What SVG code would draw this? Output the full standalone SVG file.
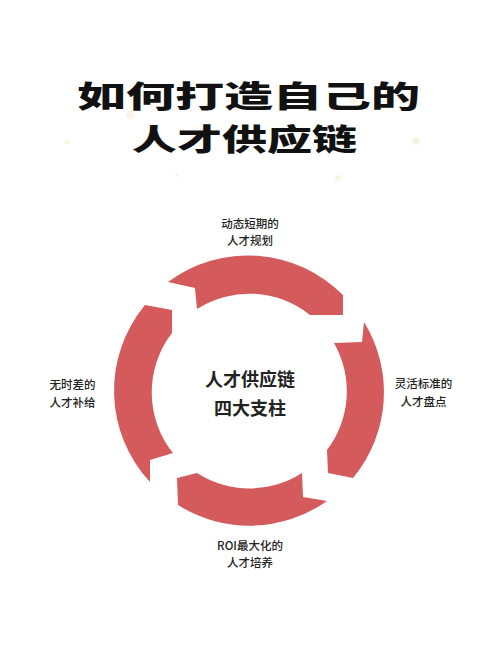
<svg xmlns="http://www.w3.org/2000/svg" width="500" height="667" viewBox="0 0 500 667">
  <style>
    .title { font-family: "Noto Sans CJK SC", "Noto Sans CJK JP", sans-serif; font-weight: 900; font-size: 29.5px; fill: #111; }
    .center { font-family: "Noto Sans CJK SC", "Noto Sans CJK JP", sans-serif; font-weight: 700; font-size: 18px; fill: #222; text-anchor: middle; }
    .label { font-family: "Noto Sans CJK SC", "Noto Sans CJK JP", sans-serif; font-weight: 500; font-size: 11.5px; fill: #222; text-anchor: middle; }
    .seg { fill: #d45a5b; }
    .spark { fill: #f2e6c0; opacity: 0.45; }
  </style>
  <rect width="500" height="667" fill="#ffffff"/>
  <g id="sparkles">
    <circle class="spark" cx="130" cy="115" r="4"/>
    <circle class="spark" cx="67" cy="142" r="2.5"/>
    <circle class="spark" cx="177" cy="175" r="2"/>
    <circle class="spark" cx="353" cy="100" r="4"/>
    <circle class="spark" cx="416" cy="141" r="4"/>
    <circle class="spark" cx="338" cy="178" r="3"/>
  </g>
  <g id="title">
    <text class="title" x="77" y="107" textLength="343" lengthAdjust="spacingAndGlyphs">如何打造自己的</text>
    <text class="title" x="132" y="150" textLength="225" lengthAdjust="spacingAndGlyphs">人才供应链</text>
  </g>
  <g id="connectors">
    <path id="seg-top" class="seg" d="M 168,282 A 134 134 0 0 1 343,295 L 343,315 L 310,315 A 97 97 0 0 0 197,309 L 195,288 Z"/>
    <path id="seg-right" class="seg" d="M 364,322 A 134 134 0 0 1 353,478 L 328,473 L 327,450 A 97 97 0 0 0 334,343 L 362,342 Z"/>
    <path id="seg-bottom" class="seg" d="M 327,501 A 134 134 0 0 1 178,505 L 177,478 L 197,473 A 97 97 0 0 0 302,473 L 303,497 Z"/>
    <path id="seg-left" class="seg" d="M 150,482 A 134 134 0 0 1 145,305 L 172,310 L 172,333 A 97 97 0 0 0 173,453 L 150,460 Z"/>
  </g>
  <g id="node-center">
    <text class="center" x="250" y="386">人才供应链</text>
    <text class="center" x="250" y="415">四大支柱</text>
  </g>
  <g id="node-top">
    <text class="label" x="250" y="228">动态短期的</text>
    <text class="label" x="250" y="245">人才规划</text>
  </g>
  <g id="node-right">
    <text class="label" x="423.5" y="388">灵活标准的</text>
    <text class="label" x="423.5" y="406">人才盘点</text>
  </g>
  <g id="node-bottom">
    <text class="label" x="250" y="550">ROI最大化的</text>
    <text class="label" x="250" y="567">人才培养</text>
  </g>
  <g id="node-left">
    <text class="label" x="72.5" y="389">无时差的</text>
    <text class="label" x="72.5" y="407">人才补给</text>
  </g>
</svg>
